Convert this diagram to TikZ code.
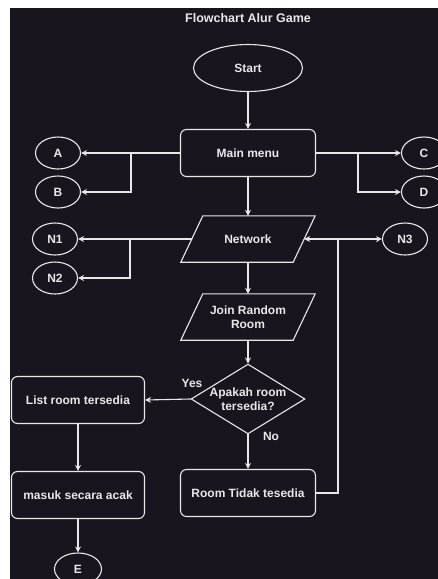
\documentclass[tikz,border=0pt]{standalone}
\usepackage{fontspec}
\setmainfont{Liberation Sans}
\usetikzlibrary{shapes.geometric,arrows.meta}
\definecolor{bgc}{HTML}{18151E}
\definecolor{fgc}{HTML}{E8E8E8}
\tikzset{
  txt/.style={text=fgc,font=\bfseries\fontsize{12}{14}\selectfont,align=center},
  line/.style={draw=fgc,line width=1.1pt},
  arr/.style={line,-{Stealth[length=6pt,width=6pt,inset=2pt]}},
  terminal/.style={txt,ellipse,line,minimum width=109pt,minimum height=47pt,inner sep=0pt},
  conn/.style={txt,ellipse,line,minimum width=45pt,minimum height=32pt,inner sep=0pt},
  proc/.style={txt,rectangle,line,rounded corners=6pt,minimum width=135pt,minimum height=47pt,inner sep=0pt},
  sideproc/.style={txt,rectangle,line,rounded corners=6pt,minimum width=133pt,minimum height=47pt,inner sep=0pt},
  iobox/.style={txt,rectangle,minimum width=112pt,minimum height=46pt,inner sep=0pt},
  decision/.style={txt,diamond,line,minimum width=111pt,minimum height=68pt,inner sep=0pt,aspect=1.63},
  lbl/.style={text=fgc,font=\bfseries\fontsize{12}{14}\selectfont}
}
\begin{document}
\begin{tikzpicture}[x=1pt,y=-1pt]
\useasboundingbox (0,0) rectangle (438,579);
\fill[white] (0,0) rectangle (438,579);
\fill[bgc] (10,8) rectangle (438,579);
\node[lbl,font=\bfseries\fontsize{12.5}{14}\selectfont] (title) at (248,18) {Flowchart Alur Game};
\node[terminal] (start) at (248,68) {Start};
\node[proc] (menu) at (248,153) {Main menu};
\node[conn] (A) at (58,153) {A};
\node[conn] (B) at (58,192) {B};
\node[conn] (C) at (424,153) {C};
\node[conn] (D) at (424,192) {D};
\node[iobox] (net) at (248,239) {Network};
\draw[line] ([xshift=11pt]net.north west) -- ([xshift=11pt]net.north east) -- ([xshift=-11pt]net.south east) -- ([xshift=-11pt]net.south west) -- cycle;
\node[conn] (N1) at (55,239) {N1};
\node[conn] (N2) at (55,278) {N2};
\node[conn] (N3) at (405,239) {N3};
\node[iobox] (join) at (248,317) {Join Random\\Room};
\draw[line] ([xshift=11pt]join.north west) -- ([xshift=11pt]join.north east) -- ([xshift=-11pt]join.south east) -- ([xshift=-11pt]join.south west) -- cycle;
\node[decision] (dec) at (248,399) {Apakah room\\tersedia?};
\node[sideproc] (list) at (78,400) {List room tersedia};
\node[sideproc] (masuk) at (78,495) {masuk secara acak};
\node[conn,minimum width=47pt] (E) at (78,569) {E};
\node[proc] (room) at (248,493) {Room Tidak tesedia};
\node[lbl] (yes) at (192,383) {Yes};
\node[lbl] (no) at (271,436) {No};
\coordinate (ab) at (131,153);
\coordinate (cd) at (358,153);
\coordinate (n12) at (130,239);
\coordinate (n3j) at (338,239);
\draw[arr] (start) -- (menu);
\draw[arr] (menu.west) -- (A.east);
\draw[arr] (ab) |- (B.east);
\draw[arr] (menu.east) -- (C.west);
\draw[arr] (cd) |- (D.west);
\draw[arr] (menu) -- (net.north);
\draw[arr] (net.west) -- (N1.east);
\draw[arr] (n12) |- (N2.east);
\draw[arr] (net.south) -- (join.north);
\draw[arr] (join.south) -- (dec.north);
\draw[arr] (dec.west) -- (list.east);
\draw[arr] (dec.south) -- (room.north);
\draw[arr] (list) -- (masuk);
\draw[arr] (masuk) -- (E);
\draw[line] (room.east) -| (n3j);
\draw[arr] (n3j) -- (net.east);
\draw[arr] (n3j) -- (N3.west);
\end{tikzpicture}
\end{document}
